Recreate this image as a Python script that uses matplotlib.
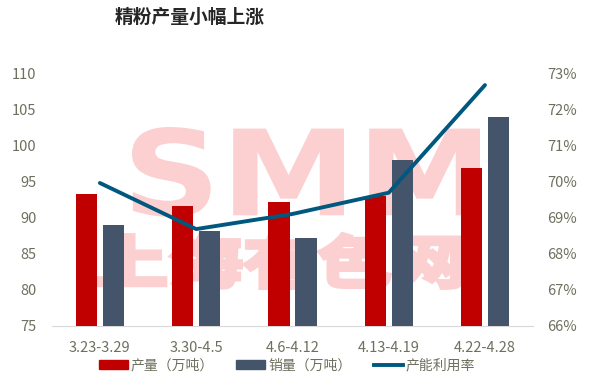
import numpy as np
import matplotlib.pyplot as plt
from matplotlib.patches import Patch, PathPatch
from matplotlib.lines import Line2D
from matplotlib.textpath import TextPath
from matplotlib.font_manager import FontProperties
from matplotlib.transforms import Affine2D, IdentityTransform

plt.rcParams['font.family'] = ['Noto Sans CJK SC', 'DejaVu Sans']

weeks = ['3.23-3.29', '3.30-4.5', '4.6-4.12', '4.13-4.19', '4.22-4.28']
output = [93.3, 91.7, 92.2, 93.0, 96.9]      # 产量（万吨）
sales = [89.0, 88.2, 87.2, 98.0, 104.0]      # 销量（万吨）
util = [69.97, 68.69, 69.11, 69.70, 72.69]   # 产能利用率 (%)

red = '#C00000'
slate = '#44546A'
teal = '#00587E'
tick_color = '#6f6f5f'
W, H = 595, 379

fig = plt.figure(figsize=(W / 100, H / 100), dpi=100)
ax = fig.add_axes([0.087, 0.14, 0.809, 0.665])
ax2 = ax.twinx()


def watermark(text, box, family, stroke=0):
    # stretch text outline into a pixel box (left, top, right, bottom)
    tp = TextPath((0, 0), text, size=100, prop=FontProperties(family=family, weight='bold'))
    ext = tp.get_extents()
    l, t, r, b = box
    tr = (Affine2D().translate(-ext.x0, -ext.y0)
          .scale((r - l) / ext.width, (b - t) / ext.height)
          .translate(l, H - b))
    p = PathPatch(tr.transform_path(tp), facecolor='#fcd0d0', edgecolor='#fcd0d0',
                  lw=stroke, transform=IdentityTransform(), zorder=-1)
    fig.add_artist(p)


watermark('SMM', (132, 127, 480, 217), 'DejaVu Sans')
watermark('上海有色网', (97, 234, 461, 288), 'Noto Sans CJK SC', stroke=3)

x = np.arange(len(weeks))
w = 0.22
ax.bar(x - 0.14, output, w, color=red, zorder=3)
ax.bar(x + 0.14, sales, w, color=slate, zorder=3)
ax2.plot(x, util, color=teal, lw=2.8, solid_capstyle='round', zorder=4)

ax.set_xlim(-0.5, 4.5)
ax.set_ylim(75, 110)
ax.set_yticks(range(75, 111, 5))
ax2.set_ylim(66, 73)
ax2.set_yticks(range(66, 74))
ax2.set_yticklabels([f'{v}%' for v in range(66, 74)])
ax.set_xticks(x)
ax.set_xticklabels(weeks)

for a in (ax, ax2):
    a.patch.set_visible(False)
    for s in a.spines.values():
        s.set_visible(False)
    a.tick_params(length=0, labelsize=10.5, colors=tick_color)
ax.spines['bottom'].set_visible(True)
ax.spines['bottom'].set_color('#d9d9d9')
ax.tick_params(axis='y', pad=11)
ax2.tick_params(axis='y', pad=10)
ax.tick_params(axis='x', pad=11)

handles = [Patch(color=red), Patch(color=slate), Line2D([0], [0], color=teal, lw=2.8)]
labels = ['产量（万吨）', '销量（万吨）', '产能利用率']
fig.legend(handles, labels, loc='center left', bbox_to_anchor=(0.145, 0.035), ncol=3,
           frameon=False, fontsize=10, labelcolor=tick_color, handlelength=2.1,
           handleheight=0.6, handletextpad=0.2, columnspacing=1.6)

fig.text(0.319, 0.955, '精粉产量小幅上涨', fontsize=13.5, fontweight='bold',
         color='#262626', ha='center', va='center')

fig.savefig('out.png', dpi=100)
